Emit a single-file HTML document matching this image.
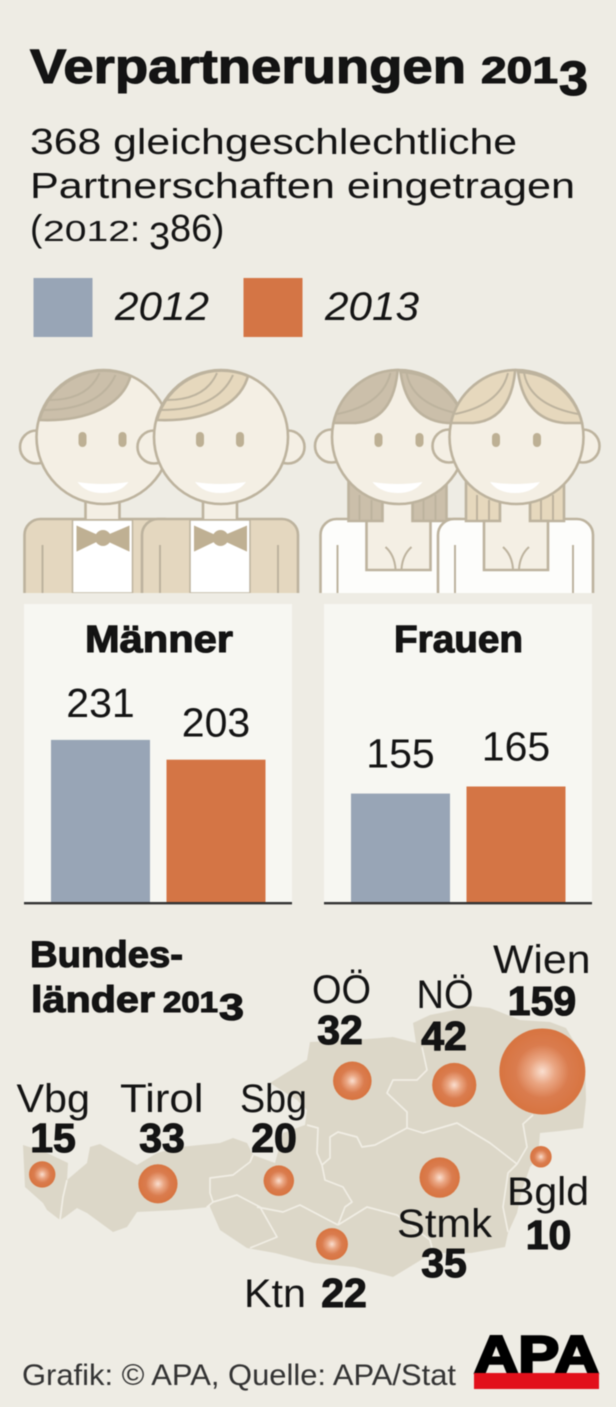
<!DOCTYPE html>
<html lang="de">
<head>
<meta charset="utf-8">
<title>Verpartnerungen 2013</title>
<style>
html,body{margin:0;padding:0;background:#eeece4;width:616px;height:1407px;overflow:hidden}
svg{display:block;filter:blur(.45px)}
text{font-family:"Liberation Sans",sans-serif;fill:#141414}
.b{font-weight:700;stroke:#111;stroke-width:1.1px}
.s{fill:none;stroke:#bdb39e;stroke-width:2.6}
.l{fill:none;stroke:#bdb39e;stroke-width:2}
.v{font-size:41px;font-weight:700;stroke:#111;stroke-width:1.1px}
.n{font-size:40px}
</style>
</head>
<body>
<svg xmlns="http://www.w3.org/2000/svg" width="616" height="1407" viewBox="0 0 616 1407">
<defs>
<radialGradient id="bubbleGrad">
<stop offset="0" stop-color="#fadfd0"/>
<stop offset=".3" stop-color="#eaa683"/>
<stop offset=".62" stop-color="#da7c4e"/>
<stop offset="1" stop-color="#d87440"/>
</radialGradient>
<g id="man">
<rect x="142" y="519" width="156" height="90" rx="16" fill="#e4d7bf" stroke="#bdb39e" stroke-width="2.6"/>
<rect x="190" y="520" width="60" height="73" fill="#fff" stroke="#bdb39e" stroke-width="1.5"/>
<path class="l" d="M160 545V593M278 545V593"/>
<path d="M195 527L220 538L195 550ZM246 527L220 538L246 550Z" fill="#bfb093" stroke="#bfb093" stroke-width="2"/>
<circle cx="220.500" cy="538" r="8" fill="#bfb093"/>
<rect x="203" y="495" width="34" height="24" fill="#f4efe4"/>
<path class="s" d="M203 500V519M237 500V519"/>
<circle cx="154" cy="447" r="16.500" fill="#f4efe4" stroke="#bdb39e" stroke-width="2.6"/>
<circle cx="288" cy="447" r="16.500" fill="#f4efe4" stroke="#bdb39e" stroke-width="2.6"/>
<circle cx="221" cy="437" r="67" fill="#f4efe4" stroke="#bdb39e" stroke-width="2.6"/>
<path d="M157 420A67 67 0 0 1 248 376C240 405 205 422 157 420Z" fill="currentColor" stroke="#bdb39e" stroke-width="2.6"/>
<path class="l" d="M217 373Q205 400 167 400M233 375Q217 410 161 410"/>
<rect x="196" y="432" width="8" height="15" rx="4" fill="#bdb094"/>
<rect x="236" y="432" width="8" height="15" rx="4" fill="#bdb094"/>
<path d="M195 482Q220 486 246 482Q238 493 220 493Q203 493 195 482Z" fill="#fff"/>
</g>
<g id="woman">
<rect x="438" y="519" width="155" height="90" rx="16" fill="#fdfdfb" stroke="#bdb39e" stroke-width="2.6"/>
<path class="l" d="M455 545V593M573 545V593"/>
<path d="M466 480V521H500V480ZM530 480V521H564V480Z" fill="currentColor" stroke="#bdb39e" stroke-width="2.6"/>
<path class="l" d="M477 495V521M489 500V521M541 500V521M553 495V521"/>
<path d="M500 495V521H484V570H548V521H530V495Z" fill="#f4efe4" stroke="#bdb39e" stroke-width="2.6"/>
<path class="l" d="M503 547Q512 555 513 569M529 547Q520 555 519 569"/>
<circle cx="449" cy="446" r="16.500" fill="#f4efe4" stroke="#bdb39e" stroke-width="2.6"/>
<circle cx="583" cy="446" r="16.500" fill="#f4efe4" stroke="#bdb39e" stroke-width="2.6"/>
<circle cx="516.500" cy="437" r="67" fill="#f4efe4" stroke="#bdb39e" stroke-width="2.6"/>
<path d="M451 423A67 67 0 0 1 515 370V372Q510 420 473 423ZM518 372A67 67 0 0 1 582 423H565Q525 420 518 372Z" fill="currentColor" stroke="#bdb39e" stroke-width="2.6"/>
<path class="l" d="M508 373Q500 405 455 414M524 373Q530 405 578 414"/>
<rect x="492" y="433" width="8" height="14" rx="4" fill="#bdb094"/>
<rect x="533" y="433" width="8" height="14" rx="4" fill="#bdb094"/>
<path d="M490 482Q515 486 540 482Q532 493 515 493Q498 493 490 482Z" fill="#fff"/>
</g>
</defs>

<rect width="616" height="1407" fill="#eeece4"/>

<text class="b"><tspan x="30" y="83" font-size="48" textLength="436" lengthAdjust="spacingAndGlyphs">Verpartnerungen</tspan> <tspan x="481" y="83" font-size="37" textLength="77" lengthAdjust="spacingAndGlyphs">201</tspan><tspan x="559" y="95" font-size="48" textLength="29" lengthAdjust="spacingAndGlyphs">3</tspan></text>

<text x="30" y="154" font-size="36" textLength="487" lengthAdjust="spacingAndGlyphs">368 gleichgeschlechtliche</text>
<text x="30" y="198" font-size="36" textLength="545" lengthAdjust="spacingAndGlyphs">Partnerschaften eingetragen</text>
<text><tspan x="30" y="241" font-size="37">(</tspan><tspan x="43" y="241" font-size="29" textLength="87" lengthAdjust="spacingAndGlyphs">2012</tspan><tspan x="130" y="241" font-size="36">:</tspan> <tspan x="149" y="249" font-size="38">3</tspan><tspan x="170" y="241" font-size="38">86</tspan><tspan x="212" y="241" font-size="37">)</tspan></text>

<rect x="33.500" y="278" width="59" height="59" fill="#98a5b6"/>
<text x="115" y="320" font-size="40" font-style="italic" textLength="94" lengthAdjust="spacingAndGlyphs">2012</text>
<rect x="243.500" y="278" width="59" height="59" fill="#d47545"/>
<text x="325" y="320" font-size="40" font-style="italic" textLength="94" lengthAdjust="spacingAndGlyphs">2013</text>

<g>
<clipPath id="clipIllus"><rect x="0" y="360" width="616" height="233"/></clipPath>
<g clip-path="url(#clipIllus)">
<g transform="translate(-117.500 0)" style="color:#cbbfaa"><use href="#man"/></g>
<g style="color:#e6d8bd"><use href="#man"/></g>
<g transform="translate(-117.500 0)" style="color:#cbbfaa"><use href="#woman"/></g>
<g style="color:#e6d8bd"><use href="#woman"/></g>
</g>
</g>

<rect x="24" y="604" width="268" height="299" fill="#f7f7f2"/>
<rect x="324" y="604" width="268" height="299" fill="#f7f7f2"/>
<text class="b" x="85" y="652" font-size="38" textLength="148" lengthAdjust="spacingAndGlyphs">Männer</text>
<text class="b" x="394" y="652" font-size="38" textLength="129" lengthAdjust="spacingAndGlyphs">Frauen</text>
<g id="bars"></g>
<rect x="24" y="902" width="268" height="2.4" fill="#333"/>
<rect x="324" y="902" width="268" height="2.4" fill="#333"/>

<text class="b" x="30" y="967" font-size="37" textLength="153" lengthAdjust="spacingAndGlyphs">Bundes-</text>
<text class="b"><tspan x="31" y="1012" font-size="37" textLength="124" lengthAdjust="spacingAndGlyphs">länder</tspan> <tspan x="163" y="1012" font-size="29" textLength="55" lengthAdjust="spacingAndGlyphs">201</tspan><tspan x="219" y="1020" font-size="37" textLength="25" lengthAdjust="spacingAndGlyphs">3</tspan></text>

<g>
<path fill="#dcd7c8" d="M23 1145L45 1152L68 1163L67 1180L87 1163L90 1147L100 1144L123 1157L137 1165L157 1153L180 1147L220 1143L233 1138L247 1143L253 1155L275 1163L283 1133L305 1125L307 1110L297 1100L270 1083L307 1060L310 1042L354 1040L393 1037L416 1043L413 1023L430 1015L445 1012L471 1006L490 1008L520 1020L550 1022L566 1028L585 1060L586 1100L583 1128L560 1131L540 1133L538 1157L530 1167L522 1190L517 1213L508 1233L505 1247L471 1253L432 1253L416 1263L393 1277L354 1267L314 1263L275 1253L247 1248L220 1230L210 1207L177 1210L137 1212L127 1227L113 1232L87 1213L77 1208L65 1217L60 1220L47 1210L43 1203L25 1187Z"/>
<g fill="none" stroke="#f1eee5" stroke-width="1.700" stroke-linejoin="round">
<path d="M67 1180L63 1197L60 1220"/>
<path d="M253 1155L250 1162L233 1175L210 1178L210 1193L213 1202L237 1195L260 1207L277 1237L250 1248"/>
<path d="M213 1202L207 1207L210 1207"/>
<path d="M257 1207L283 1212L300 1205L338 1225"/>
<path d="M307 1125L318 1128L317 1153L322 1165L325 1180L343 1187L352 1202L345 1207L338 1225"/>
<path d="M322 1165L330 1158L330 1137L338 1132L357 1137L362 1147L375 1145L407 1128L423 1133L457 1123L490 1143L517 1164"/>
<path d="M422 1047L427 1070L417 1080L393 1080L387 1093L407 1112L407 1128"/>
<path d="M338 1225L367 1207L397 1215L430 1240L433 1252"/>
<path d="M533 1115L523 1124L527 1147L517 1164L508 1173L503 1207L508 1232"/>
</g>
</g>
<g id="bubbles"></g>

<g>
<text class="n" x="16.500" y="1112" textLength="73.500" lengthAdjust="spacingAndGlyphs">Vbg</text>
<text class="v" id="val-0" x="53" y="1152" text-anchor="middle">15</text>
<text class="n" x="120" y="1112" textLength="83.500" lengthAdjust="spacingAndGlyphs">Tirol</text>
<text class="v" id="val-1" x="162" y="1152" text-anchor="middle">33</text>
<text class="n" x="240" y="1112" textLength="67" lengthAdjust="spacingAndGlyphs">Sbg</text>
<text class="v" id="val-2" x="274" y="1152" text-anchor="middle">20</text>
<text class="n" x="312" y="1003" textLength="59" lengthAdjust="spacingAndGlyphs">OÖ</text>
<text class="v" id="val-3" x="340" y="1044" text-anchor="middle">32</text>
<text class="n" x="416.500" y="1008" textLength="57" lengthAdjust="spacingAndGlyphs">NÖ</text>
<text class="v" id="val-4" x="444" y="1050" text-anchor="middle">42</text>
<text class="n" x="493" y="973" textLength="97.500" lengthAdjust="spacingAndGlyphs">Wien</text>
<text class="v" id="val-5" x="542" y="1015" text-anchor="middle">159</text>
<text class="n" x="507" y="1205" textLength="82" lengthAdjust="spacingAndGlyphs">Bgld</text>
<text class="v" id="val-6" x="548.500" y="1249" text-anchor="middle">10</text>
<text class="n" x="397" y="1237" textLength="95" lengthAdjust="spacingAndGlyphs">Stmk</text>
<text class="v" id="val-7" x="444" y="1277" text-anchor="middle">35</text>
<text class="n" x="244" y="1307" textLength="62" lengthAdjust="spacingAndGlyphs">Ktn</text>
<text class="v" id="val-8" x="344" y="1307" text-anchor="middle">22</text>
</g>

<text x="22" y="1385" font-size="30" textLength="434" lengthAdjust="spacingAndGlyphs" style="fill:#333">Grafik: © APA, Quelle: APA/Stat</text>

<g>
<text x="474" y="1373" font-size="53" font-weight="700" textLength="125" lengthAdjust="spacingAndGlyphs" style="fill:#000;stroke:#000;stroke-width:2.5px">APA</text>
<rect x="474" y="1373" width="125" height="16" fill="#e2101b"/>
</g>
</svg>

<script>
const panelCategories = ['Männer', 'Frauen'];
const seriesNames = ['2012', '2013'];
const values2012 = [231, 155];
const values2013 = [203, 165];
const stateNames = ['Vbg', 'Tirol', 'Sbg', 'OOe', 'NOe', 'Wien', 'Bgld', 'Stmk', 'Ktn'];
const stateValues = [15, 33, 20, 32, 42, 159, 10, 35, 22];
const stateLongitude = [9.75, 11.34, 13.00, 14.01, 15.41, 16.62, 16.60, 15.21, 13.73];
const stateLatitude = [47.39, 47.30, 47.33, 48.29, 48.25, 48.38, 47.56, 47.36, 46.72];

const NS = 'http://www.w3.org/2000/svg';
const barsLayer = document.getElementById('bars');
const bubblesLayer = document.getElementById('bubbles');
const baselineY = 903;
const pxPerUnit = 0.706;
const yScale = function (v) { return baselineY - v * pxPerUnit; };
const panelLeft = function (p) { return 24 + p * 300; };
const barX = function (p, s) { return panelLeft(p) + 27 + s * 115.5; };
const barWidth = 99;
const seriesFill = ['#98a5b6', '#d47545'];
const labelGap = [23, 26];
const lonScale = function (lon) { return 24 + (lon - 9.5) * 72.8; };
const latScale = function (lat) { return 1007 + (49 - lat) * 104; };
const radiusScale = function (v) { return 3.41 * Math.sqrt(v); };

[values2012, values2013].forEach(function (series, s) {
  series.forEach(function (value, p) {
    const bar = document.createElementNS(NS, 'rect');
    bar.setAttribute('x', barX(p, s));
    bar.setAttribute('y', yScale(value));
    bar.setAttribute('width', barWidth);
    bar.setAttribute('height', baselineY - yScale(value));
    bar.setAttribute('fill', seriesFill[s]);
    
    
    barsLayer.appendChild(bar);

    const label = document.createElementNS(NS, 'text');
    label.setAttribute('x', barX(p, s) + barWidth / 2);
    label.setAttribute('y', yScale(value) - labelGap[p]);
    label.setAttribute('text-anchor', 'middle');
    label.setAttribute('font-size', '41');
    
    
    label.textContent = value;
    barsLayer.appendChild(label);
  });
});

stateValues.forEach(function (value, i) {
  const bubble = document.createElementNS(NS, 'circle');
  bubble.setAttribute('cx', lonScale(stateLongitude[i]));
  bubble.setAttribute('cy', latScale(stateLatitude[i]));
  bubble.setAttribute('r', radiusScale(value));
  bubble.setAttribute('fill', 'url(#bubbleGrad)');
  
  
  bubblesLayer.appendChild(bubble);
  document.getElementById('val-' + i).textContent = value;
});
</script>
</body>
</html>
